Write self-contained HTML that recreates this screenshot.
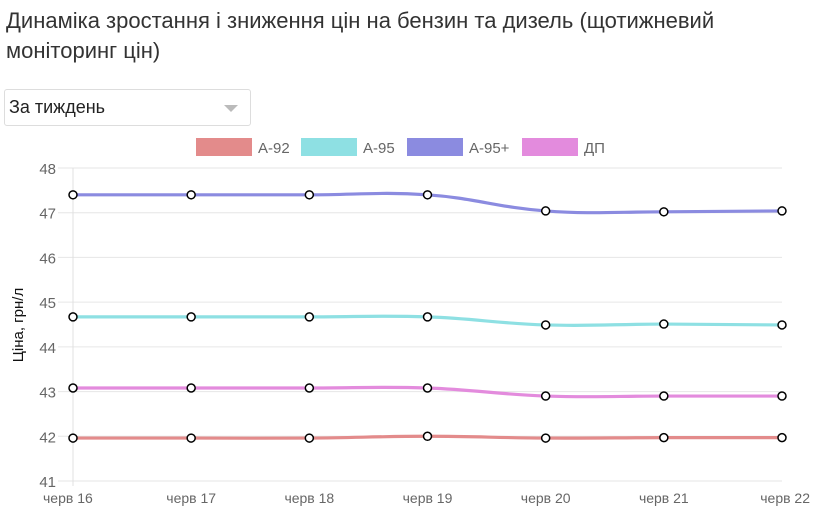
<!DOCTYPE html>
<html><head><meta charset="utf-8"><style>
body{margin:0;background:#fff;font-family:"Liberation Sans",sans-serif;width:820px;height:523px;overflow:hidden;position:relative}
#title{position:absolute;left:6px;top:6px;font-size:22px;line-height:30px;color:#333;width:800px}
#sel{position:absolute;left:4px;top:89px;width:247px;height:37px;border:1px solid #ddd;border-radius:3px;box-sizing:border-box;font-size:18px;line-height:35px;padding-left:4px;color:#222}
#sel .arr{position:absolute;right:12px;top:15px;width:0;height:0;border-left:7px solid transparent;border-right:7px solid transparent;border-top:7px solid #bbb}
</style></head><body>
<div id="title">Динаміка зростання і зниження цін на бензин та дизель (щотижневий моніторинг цін)</div>
<div id="sel">За тиждень<span class="arr"></span></div>
<svg id="c" width="820" height="523" style="position:absolute;left:0;top:0"></svg>
<script>
const categories=["черв 16","черв 17","черв 18","черв 19","черв 20","черв 21","черв 22"];
const seriesNames=["А-92","А-95","А-95+","ДП"];
const a92=[41.96,41.96,41.96,42.0,41.96,41.97,41.97];
const a95=[44.67,44.67,44.67,44.67,44.49,44.51,44.49];
const a95p=[47.40,47.40,47.40,47.40,47.04,47.02,47.04];
const dp=[43.08,43.08,43.08,43.08,42.90,42.90,42.90];
const yTicks=[41,42,43,44,45,46,47,48];
const colors=["#e38b8b","#8ee0e3","#8b8be0","#e38bdd"];
const ns="http://www.w3.org/2000/svg",svg=document.getElementById('c');
const X0=73,X1=782,Y0=481,Y1=168;
const xs=i=>X0+i*(X1-X0)/(categories.length-1);
const ys=v=>Y0-(v-41)*(Y0-Y1)/7;
function mk(t,a,p){const e=document.createElementNS(ns,t);for(const k in a)e.setAttribute(k,a[k]);(p||svg).appendChild(e);return e;}
yTicks.forEach(v=>{const y=ys(v);
 const g=mk('line',{x1:58,x2:X1,y1:y,y2:y,stroke:'#e6e6e6','stroke-width':1});
 
 
 const t=mk('text',{x:56,y:y+6,'text-anchor':'end','font-size':15,fill:'#666'});t.textContent=v;
 
 });
const ax=mk('line',{x1:X0,x2:X0,y1:Y1,y2:Y0+5,stroke:'#e0e0e0','stroke-width':1});


categories.forEach((c,i)=>{let anchor=i==0?'start':(i==categories.length-1?'end':'middle');let x=i==0?X0-30:(i==categories.length-1?X1+28:xs(i));
 const t=mk('text',{x:x,y:503,'text-anchor':anchor,'font-size':14,fill:'#666'});t.textContent=c;
 
 });
const yt=mk('text',{transform:'translate(23,325) rotate(-90)','text-anchor':'middle','font-size':15,fill:'#111'});yt.textContent='Ціна, грн/л';


function path(vals){const p=vals.map((v,i)=>[xs(i),ys(v)]);let d='M'+p[0];const k=0.2;
 for(let i=0;i<p.length-1;i++){const a=p[i-1]||p[i],b=p[i],c=p[i+1],e=p[i+2]||c;
  d+=' C'+(b[0]+(c[0]-a[0])*k)+','+(b[1]+(c[1]-a[1])*k)+' '+(c[0]-(e[0]-b[0])*k)+','+(c[1]-(e[1]-b[1])*k)+' '+c[0]+','+c[1];}
 return d;}
const all=[a92,a95,a95p,dp];
[2,1,3,0].forEach(s=>{const l=mk('path',{d:path(all[s]),fill:'none',stroke:colors[s],'stroke-width':3.2});
 
 
 all[s].forEach((v,i)=>{const c=mk('circle',{cx:xs(i),cy:ys(v),r:4,fill:'#fff',stroke:'#000','stroke-width':1.5});
  
  });});
const lx=[196,301,407,522];
seriesNames.forEach((n,i)=>{const r=mk('rect',{x:lx[i],y:138,width:56,height:18,fill:colors[i]});
 
 
 const t=mk('text',{x:lx[i]+62,y:153,'font-size':15,fill:'#666'});t.textContent=n;
 
 });
</script>
</body></html>
